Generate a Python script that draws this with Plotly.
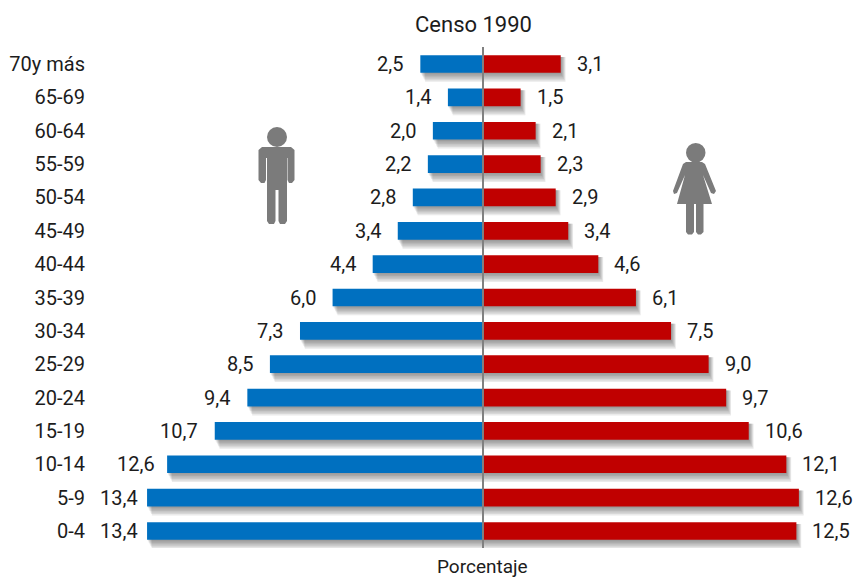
import plotly.graph_objects as go

age_groups = ["0-4", "5-9", "10-14", "15-19", "20-24", "25-29", "30-34", "35-39",
              "40-44", "45-49", "50-54", "55-59", "60-64", "65-69", "70y más"]
men = [13.4, 13.4, 12.6, 10.7, 9.4, 8.5, 7.3, 6.0, 4.4, 3.4, 2.8, 2.2, 2.0, 1.4, 2.5]
women = [12.5, 12.6, 12.1, 10.6, 9.7, 9.0, 7.5, 6.1, 4.6, 3.4, 2.9, 2.3, 2.1, 1.5, 3.1]
chart_title = "Censo 1990"
axis_title = "Porcentaje"

W, H = 854, 577
L, R, T, B = 86, 0, 47, 29
PX = 25.07
ZERO = 483
FONT = "Roboto, Liberation Sans, sans-serif"
INK = "#1c1c1c"
GREY = "#7b7b7b"
BLUE = "#0070c0"
RED = "#c00000"
BAR_W = 0.53


def fmt(v):
    return f"{v:.1f}".replace(".", ",")


def left_gap(v):
    if v >= 13:
        return -7
    if v >= 12:
        return -10
    return -15


def px(x):
    return (x - L) / (W - L)


def py(y):
    return 1 - (y - T) / (H - T - B)


fig = go.Figure()

for side, values in ((-1, men), (1, women)):
    for k in range(1, 7):
        drop = k * 1.5 / 33.36
        fig.add_trace(go.Bar(
            y=age_groups, x=[side * v for v in values], orientation="h",
            base=(k * 0.8) / PX, width=BAR_W * 0.9 + drop,
            offset=-BAR_W / 2 - drop,
            marker=dict(color="rgba(60,60,60,0.11)", line_width=0),
            hoverinfo="skip", showlegend=False,
        ))

fig.add_trace(go.Bar(y=age_groups, x=[-v for v in men], orientation="h", width=BAR_W,
                     marker=dict(color=BLUE, line_width=0), name="Hombres", showlegend=False))
fig.add_trace(go.Bar(y=age_groups, x=women, orientation="h", width=BAR_W,
                     marker=dict(color=RED, line_width=0), name="Mujeres", showlegend=False))

ann = []
for g, m, f in zip(age_groups, men, women):
    ann.append(dict(x=-m, y=g, text=fmt(m), xanchor="right", xshift=left_gap(m),
                    showarrow=False, font=dict(family=FONT, size=20, color=INK)))
    ann.append(dict(x=f, y=g, text=fmt(f), xanchor="left", xshift=14,
                    showarrow=False, font=dict(family=FONT, size=20, color=INK)))
ann.append(dict(x=0, xref="x", y=py(566), yref="paper", text=axis_title, xanchor="center",
                yanchor="middle", xshift=-0.5, showarrow=False, font=dict(family=FONT, size=19, color=INK)))


def man_shapes():
    s = []
    s.append(dict(type="circle", x0=px(267), x1=px(287), y0=py(127), y1=py(147)))
    path = [(262, 147), (291, 147), (294.5, 150), (294.5, 180), (292, 183), (289, 183), (287.5, 180),
            (287.5, 158), (287, 158), (287, 221), (285, 224), (280, 224), (278.5, 221), (278.5, 190),
            (275.5, 190), (275.5, 221), (274, 224), (269, 224), (267, 221), (267, 158), (266, 158),
            (266, 180), (264.5, 183), (261, 183), (258.5, 180), (258.5, 150)]
    s.append(dict(type="path", path="M" + " L".join(f"{px(x):.5f},{py(y):.5f}" for x, y in path) + " Z"))
    return s


def woman_shapes():
    s = []
    s.append(dict(type="circle", x0=px(686), x1=px(705.5), y0=py(143), y1=py(162.5)))
    path = [(686, 162), (702, 162), (705, 164), (716, 191), (714, 194), (711, 193), (703, 175),
            (712, 204), (703.5, 204), (703.5, 232), (701, 234.5), (698, 234.5), (696, 232), (696, 204),
            (694, 204), (694, 232), (692, 234.5), (688, 234.5), (686, 232), (686, 204), (677, 204),
            (685, 175), (677, 193), (674, 194), (673, 191), (683, 164)]
    s.append(dict(type="path", path="M" + " L".join(f"{px(x):.5f},{py(y):.5f}" for x, y in path) + " Z"))
    return s


shapes = []
for sh in man_shapes() + woman_shapes():
    sh.update(xref="paper", yref="paper", fillcolor=GREY, line_width=0, layer="above")
    shapes.append(sh)
shapes.append(dict(type="line", x0=0, x1=0, xref="x", y0=0, y1=1, yref="paper",
                   line=dict(color="#808080", width=2), layer="above"))

fig.update_layout(
    width=W, height=H, barmode="overlay", autosize=False,
    margin=dict(l=L, r=R, t=T, b=B),
    paper_bgcolor="white", plot_bgcolor="white", showlegend=False,
    title=dict(text=chart_title, x=473.5 / W, y=1 - 24 / H, xanchor="center", yanchor="middle",
               font=dict(family=FONT, size=22, color=INK)),
    xaxis=dict(range=[(L - ZERO) / PX, (W - ZERO) / PX], showgrid=False, zeroline=False,
               showticklabels=False, ticks="", fixedrange=True),
    yaxis=dict(type="category", categoryorder="array", categoryarray=age_groups,
               range=[-0.51, 14.51], showgrid=False, zeroline=False, showline=False, ticks="",
               tickfont=dict(family=FONT, size=20, color=INK), automargin=False, fixedrange=True),
    annotations=ann, shapes=shapes,
)

fig.write_html("out.html", config={"displayModeBar": False},
               post_script="document.body.style.margin='0';document.documentElement.style.overflow='hidden';")
